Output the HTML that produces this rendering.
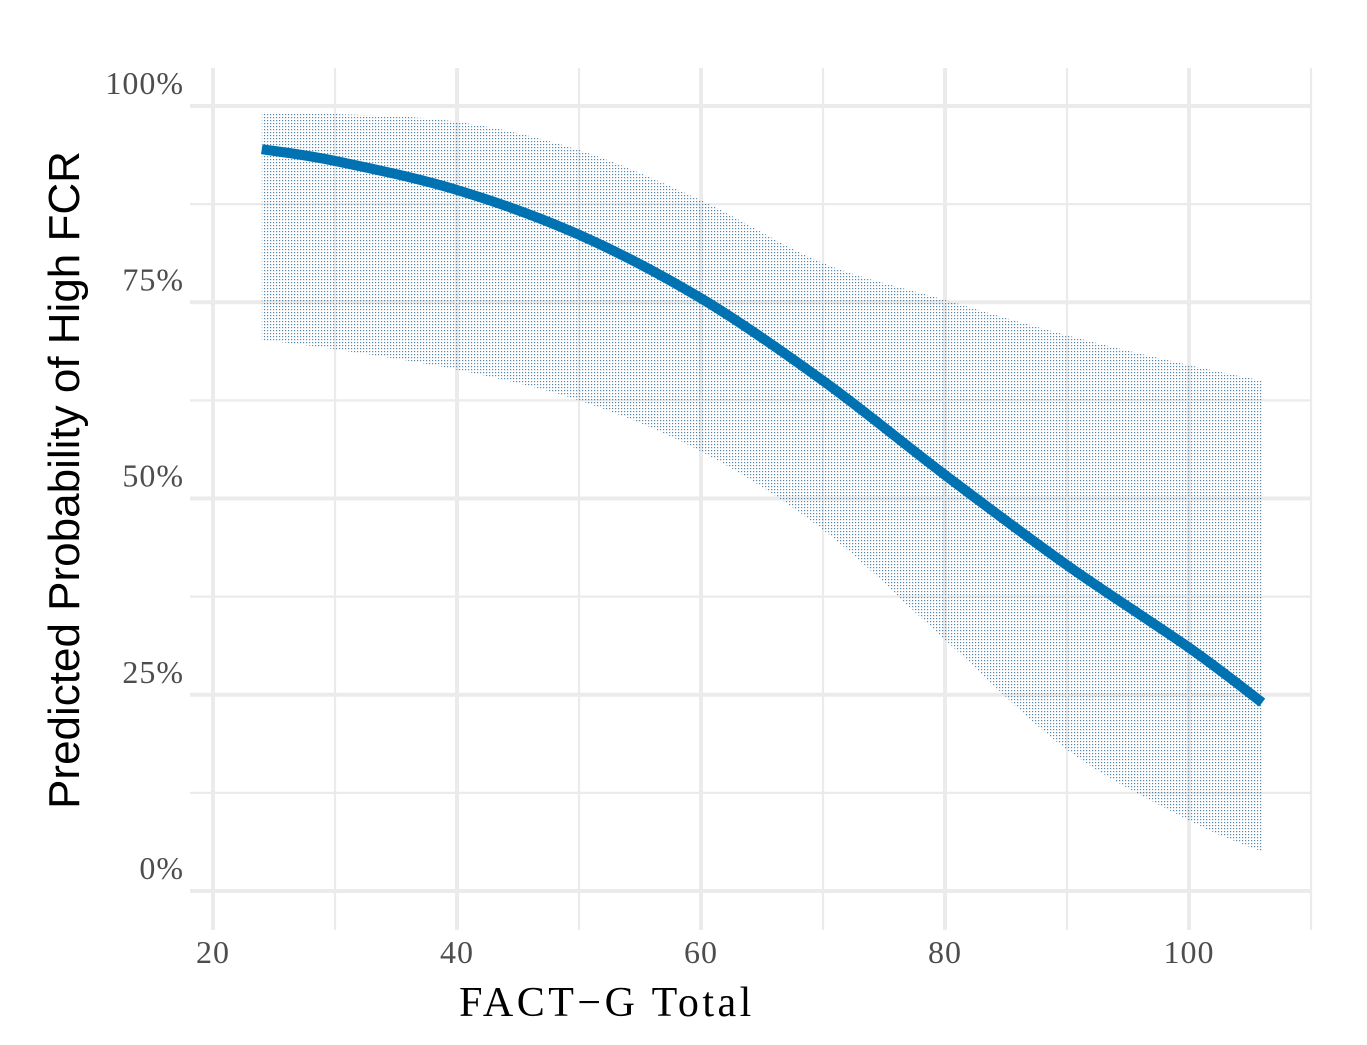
<!DOCTYPE html>
<html><head><meta charset="utf-8"><style>body{margin:0;background:#fff}svg{display:block}</style></head>
<body>
<svg id="chart" width="1367" height="1045" xmlns="http://www.w3.org/2000/svg">
<defs><pattern id="dots" width="3" height="3" patternUnits="userSpaceOnUse"><rect x="0" y="0" width="1.2" height="1.2" fill="#1f5f8a" fill-opacity="0.75"/></pattern></defs>
<g id="grid"></g>
<g id="marks"></g>
<g id="labels"></g>
<text x="607" y="1016" font-family="Liberation Serif, serif" font-size="42" letter-spacing="3.5" text-anchor="middle" fill="#000">FACT−G Total</text>
<text transform="translate(79,480) rotate(-90)" font-family="Liberation Sans, sans-serif" font-size="44" text-anchor="middle" fill="#000">Predicted Probability of High FCR</text>
</svg>
<script>
const xVals=[24,30,40,50,60,70,80,90,100,106];
const fitVals=[94.5,93,89.3,83.6,75.5,65,53,41.5,31,24];
const upperVals=[99.2,99,98,94.4,88,80,75.3,70.8,67,65];
const lowerVals=[70.2,69,66.4,62.5,56,46,32,18,9,5];
const xTicks=[20,40,60,80,100];
const yTicks=[0,25,50,75,100];
const NS="http://www.w3.org/2000/svg";
const sx=v=>213+(v-20)*12.2;
const sy=v=>891-v*7.85;
function mk(tag,attrs,parent){const e=document.createElementNS(NS,tag);for(const k in attrs)e.setAttribute(k,attrs[k]);parent.appendChild(e);return e;}
const grid=document.getElementById('grid'),marks=document.getElementById('marks'),labels=document.getElementById('labels');
for(let v=20;v<=110;v+=10){const major=v%20===0;
const l=mk('line',{x1:sx(v),x2:sx(v),y1:68,y2:930,stroke:'#ebebeb','stroke-width':major?4:2.2},grid);

}
for(let v=0;v<=100;v+=12.5){const major=v%25===0;
const l=mk('line',{x1:190,x2:1311,y1:sy(v),y2:sy(v),stroke:'#ebebeb','stroke-width':major?4:2.2},grid);

}
function smooth(pts){let d='M'+pts[0][0]+','+pts[0][1];for(let i=0;i<pts.length-1;i++){const p0=pts[Math.max(0,i-1)],p1=pts[i],p2=pts[i+1],p3=pts[Math.min(pts.length-1,i+2)];
d+=' C'+(p1[0]+(p2[0]-p0[0])/6)+','+(p1[1]+(p2[1]-p0[1])/6)+' '+(p2[0]-(p3[0]-p1[0])/6)+','+(p2[1]-(p3[1]-p1[1])/6)+' '+p2[0]+','+p2[1];}return d;}
const up=xVals.map((x,i)=>[sx(x),sy(upperVals[i])]);
const lo=xVals.map((x,i)=>[sx(x),sy(lowerVals[i])]).reverse();
const bandD=smooth(up)+' L'+smooth(lo).slice(1)+' Z';
const band=mk('path',{d:bandD,fill:'url(#dots)'},marks);


const line=mk('path',{d:smooth(xVals.map((x,i)=>[sx(x),sy(fitVals[i])])),fill:'none',stroke:'#0072b2','stroke-width':10},marks);


xTicks.forEach(v=>{const t=mk('text',{x:sx(v),y:963,'font-family':'Liberation Serif, serif','font-size':32,'letter-spacing':1,fill:'#4d4d4d','text-anchor':'middle'},labels);t.textContent=v;

});
yTicks.forEach(v=>{const t=mk('text',{x:184,y:sy(v)-12,'font-family':'Liberation Serif, serif','font-size':32,'letter-spacing':1,fill:'#4d4d4d','text-anchor':'end'},labels);t.textContent=v+'%';

});
</script>
</body></html>
